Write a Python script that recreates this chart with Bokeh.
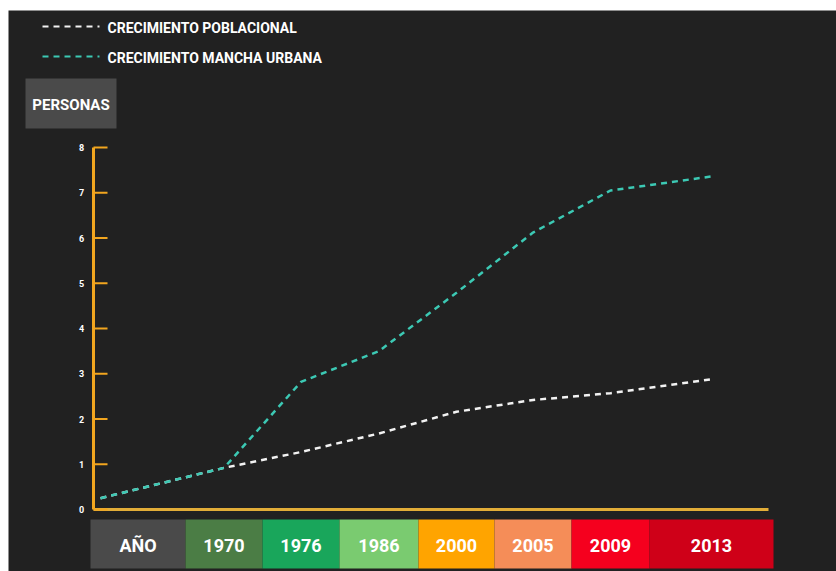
from bokeh.plotting import figure
from bokeh.models import Range1d, ColumnDataSource
from bokeh.core.properties import value
from bokeh.embed import file_html
from bokeh.resources import INLINE

# ---------------- data ----------------
years = ["1970", "1976", "1986", "2000", "2005", "2009", "2013"]
header_label = "AÑO"
y_label = "PERSONAS"
series_names = ["CRECIMIENTO POBLACIONAL", "CRECIMIENTO MANCHA URBANA"]
# first value = origin point at the start of the axis, then one per year
poblacional = [0.25, 0.92, 1.27, 1.68, 2.16, 2.42, 2.57, 2.88]
mancha_urbana = [0.25, 0.92, 2.82, 3.50, 4.79, 6.12, 7.05, 7.36]
y_ticks = [0, 1, 2, 3, 4, 5, 6, 7, 8]
bar_colors = ["#4a4a4a", "#4b7d45", "#19a65b", "#7acb70", "#ffa400",
              "#f58d58", "#f5001e", "#cf0018"]

# ---------------- layout ----------------
W, H = 836, 571
FL, FT = 8, 10                      # frame offset (white strip)
seg_widths = [95, 77, 77, 79, 76, 77, 78, 124]
seg_start = 90
AXIS_X = 93
AX_ZERO_PX, AX_TOP_PX = 509, 147    # page px of value 0 and 8
ppu = (AX_ZERO_PX - AX_TOP_PX) / 8.0
FONT = "Roboto"

edges = [seg_start]
for w in seg_widths:
    edges.append(edges[-1] + w)
centers = [(edges[i] + edges[i + 1]) / 2 for i in range(len(seg_widths))]
labels = [header_label] + years

p = figure(width=W, height=H, output_backend="svg", toolbar_location=None,
           x_range=Range1d(FL, W), y_range=Range1d(H, FT),
           min_border_left=FL, min_border_top=FT, min_border_right=0,
           min_border_bottom=0, border_fill_color="white",
           background_fill_color="#212121", outline_line_color=None)
p.axis.visible = False
p.grid.visible = False
p.extra_y_ranges = {"val": Range1d(-(H - AX_ZERO_PX) / ppu, 8 + (AX_TOP_PX - FT) / ppu)}

# year bar
bar_src = ColumnDataSource(dict(left=edges[:-1], right=edges[1:], color=bar_colors,
                                x=centers, label=labels))
p.quad(left="left", right="right", top=519, bottom=568, fill_color="color",
       line_color=None, source=bar_src)
p.text(x="x", y=545, text="label", source=bar_src, text_color="white",
       text_font=value(FONT), text_font_style="bold", text_font_size="18px",
       text_align="center", text_baseline="middle")

# axes (yellow)
axis_end_x = edges[-1] - 5
p.segment(x0=AXIS_X, x1=axis_end_x, y0=0, y1=0, y_range_name="val",
          line_color="#e2ad38", line_width=3)
p.segment(x0=AXIS_X, x1=AXIS_X, y0=0, y1=8, y_range_name="val",
          line_color="#f2a61f", line_width=3)
p.segment(x0=[AXIS_X] * len(y_ticks), x1=[AXIS_X + 14] * len(y_ticks),
          y0=y_ticks, y1=y_ticks, y_range_name="val",
          line_color="#f2a61f", line_width=2)
p.text(x=[AXIS_X - 12] * len(y_ticks), y=y_ticks, text=[str(t) for t in y_ticks],
       y_range_name="val", text_color="white", text_font=value(FONT),
       text_font_style="bold", text_font_size="9px", text_align="center",
       text_baseline="middle")

# data lines
xs = [AXIS_X + 7] + centers[1:]
p.line(xs, poblacional, y_range_name="val", line_color="#f2f2f2", line_width=2.5,
       line_dash="6 5")
p.line(xs, mancha_urbana, y_range_name="val", line_color="#3cc9b4", line_width=2.5,
       line_dash="6 5")

# legend
leg_y = [26, 56]
leg_colors = ["#f2f2f2", "#3cc9b4"]
for yy, c, name in zip(leg_y, leg_colors, series_names):
    p.line([42, 99], [yy, yy], line_color=c, line_width=2, line_dash="6 5")
    p.text(x=[107], y=[yy + 1], text=[name], text_color="white", text_font=value(FONT),
           text_font_style="bold", text_font_size="14px", text_baseline="middle")

# PERSONAS box
p.quad(left=25, right=116, top=78, bottom=128, fill_color="#4a4a4a", line_color=None)
p.text(x=[70.5], y=[104], text=[y_label], text_color="white", text_font=value(FONT),
       text_font_style="bold", text_font_size="15px", text_align="center",
       text_baseline="middle")

open("out.html", "w").write(file_html(p, INLINE))
